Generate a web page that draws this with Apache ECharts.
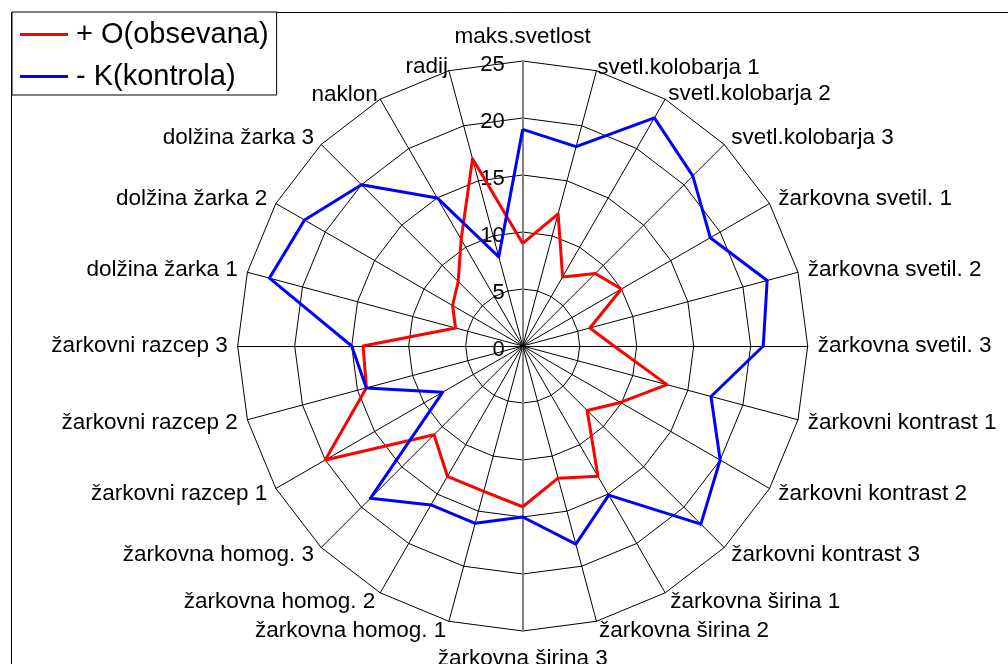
<!DOCTYPE html>
<html>
<head>
<meta charset="utf-8">
<script src="https://cdn.jsdelivr.net/npm/echarts@6/dist/echarts.min.js"></script>
<style>
html,body{margin:0;padding:0;background:#fff;}
#chart{width:1008px;height:664px;}
</style>
</head>
<body>
<div id="chart"></div>
<script>
// Categories in clockwise order starting from the top
var categories = ['maks.svetlost','svetl.kolobarja 1','svetl.kolobarja 2','svetl.kolobarja 3',
  'žarkovna svetil. 1','žarkovna svetil. 2','žarkovna svetil. 3',
  'žarkovni kontrast 1','žarkovni kontrast 2','žarkovni kontrast 3',
  'žarkovna širina 1','žarkovna širina 2','žarkovna širina 3',
  'žarkovna homog. 1','žarkovna homog. 2','žarkovna homog. 3',
  'žarkovni razcep 1','žarkovni razcep 2','žarkovni razcep 3',
  'dolžina žarka 1','dolžina žarka 2','dolžina žarka 3','naklon','radij'];
var seriesNames = ['+ O(obsevana)', '- K(kontrola)'];
var valuesO = [9, 12, 7, 9, 10, 6.1, 8, 13.1, 9.9, 8, 13.2, 12, 14.1, 13.2, 13.2, 11, 20, 14.2, 14, 6.1, 7.1, 8, 10.8, 17];
var valuesK = [19, 18.1, 23.1, 21.1, 19, 22.2, 21.1, 17.1, 20, 22.1, 15.1, 18, 15, 16.1, 16.1, 18.9, 8.1, 14.2, 15, 23, 22.1, 20, 15, 8.1];
var axisMax = 25;
var axisSplits = 5;

// per-label name gaps (clockwise index) to mimic the original label placement
var nameGapOverride = { 0: 13, 1: 3, 2: 6, 12: 16, 22: 5, 23: 4 };

var font = "'Liberation Sans', Arial, sans-serif";
var n = categories.length;
// ECharts radar places indicators counter-clockwise; reorder so they run clockwise
var order = [];
for (var k = 0; k < n; k++) order.push((n - k) % n);
function cw(arr) { return order.map(function (ci) { return arr[ci]; }); }

var indicator = order.map(function (ci) {
  var ind = { name: categories[ci], min: 0, max: axisMax };
  if (ci === 0) {
    ind.axisLabel = { show: true };
  }
  if (ci === 0 || ci === n / 2) {
    ind.axisLine = { lineStyle: { color: '#808080', width: 2 } };
  }
  if (nameGapOverride[ci] != null) {
    ind.nameGap = nameGapOverride[ci];
  }
  return ind;
});

var chart = echarts.init(document.getElementById('chart'), null, { renderer: 'canvas' });
chart.setOption({
  backgroundColor: '#fff',
  animation: false,
  textStyle: { fontFamily: font, color: '#000' },
  graphic: [{
    type: 'rect',
    z: -10,
    silent: true,
    shape: { x: 11.5, y: 12.5, width: 1200, height: 1000 },
    style: { fill: 'none', stroke: '#000', lineWidth: 1 }
  }],
  legend: {
    orient: 'vertical',
    left: 12,
    top: 12,
    padding: [8, 8, 4, 8],
    itemGap: 13,
    itemWidth: 48,
    itemHeight: 3,
    backgroundColor: '#fff',
    borderColor: '#000',
    borderWidth: 1,
    data: [
      { name: seriesNames[0], icon: 'rect' },
      { name: seriesNames[1], icon: 'rect' }
    ],
    textStyle: { fontSize: 29, fontFamily: font, color: '#000', padding: [0, 0, 0, 3] }
  },
  radar: {
    center: [522.7, 346],
    radius: 285,
    startAngle: 90,
    shape: 'polygon',
    splitNumber: axisSplits,
    nameGap: 10,
    axisName: { color: '#000', fontSize: 22.5, fontFamily: font },
    axisLine: { show: true, lineStyle: { color: '#000', width: 1 } },
    splitLine: { show: true, lineStyle: { color: '#000', width: 1 } },
    splitArea: { show: false },
    axisTick: { show: false },
    axisLabel: { show: false, color: '#000', fontSize: 22, fontFamily: font, margin: 18,
                 verticalAlign: 'top', lineHeight: 8 },
    indicator: indicator
  },
  series: [{
    type: 'radar',
    symbol: 'none',
    data: [
      { name: seriesNames[0], value: cw(valuesO),
        itemStyle: { color: '#ff0000' },
        lineStyle: { color: '#ff0000', width: 3 } },
      { name: seriesNames[1], value: cw(valuesK),
        itemStyle: { color: '#0000ff' },
        lineStyle: { color: '#0000ff', width: 3 } }
    ]
  }]
});
</script>
</body>
</html>
